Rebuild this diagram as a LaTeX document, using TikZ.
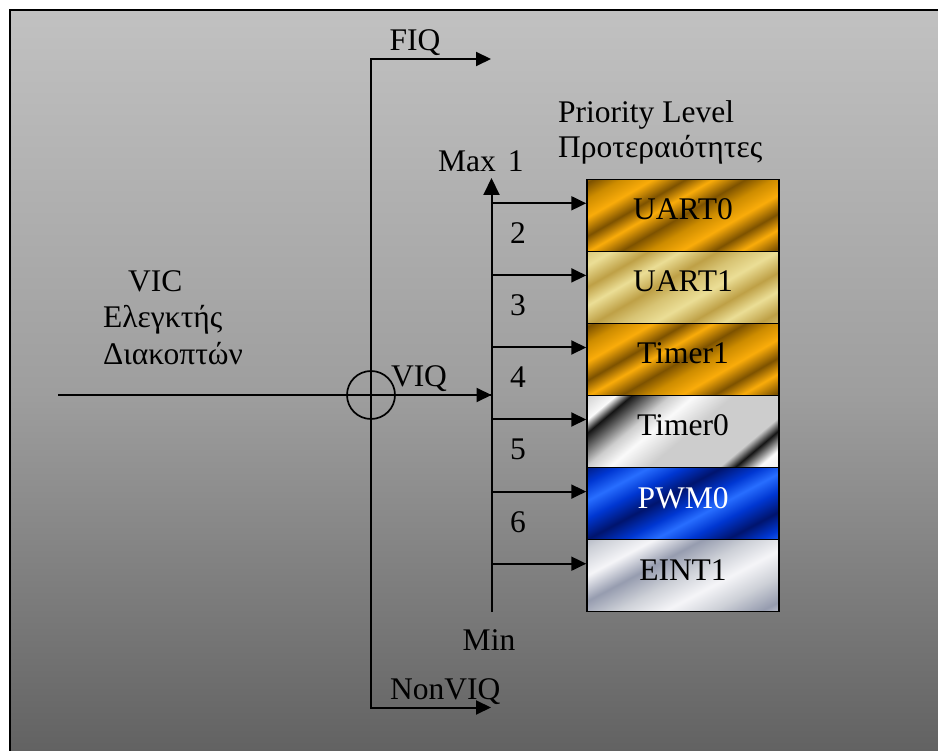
\documentclass[tikz,border=0pt]{standalone}
\usepackage{fontspec}
\setmainfont{Liberation Serif}
\usetikzlibrary{arrows.meta}
% background
\definecolor{bgtop}{RGB}{193,193,193}
\definecolor{bgmid}{RGB}{158,158,158}
\definecolor{bgbot}{RGB}{94,94,94}
% gold
\definecolor{gdk}{RGB}{125,82,0}
\definecolor{gmd}{RGB}{205,140,0}
\definecolor{gbr}{RGB}{250,172,10}
% pale gold
\definecolor{pdk}{RGB}{190,160,70}
\definecolor{pmd}{RGB}{215,195,115}
\definecolor{pbr}{RGB}{235,222,150}
% silver
\definecolor{sdk}{RGB}{20,20,20}
\definecolor{smd}{RGB}{205,205,205}
\definecolor{sbr}{RGB}{250,250,250}
% blue
\definecolor{bdk}{RGB}{0,20,110}
\definecolor{bmd}{RGB}{0,55,210}
\definecolor{bbr}{RGB}{40,110,255}
% pale silver
\definecolor{edk}{RGB}{150,156,175}
\definecolor{emd}{RGB}{205,208,215}
\definecolor{ebr}{RGB}{245,245,248}
\pgfdeclareverticalshading{bgshade}{100bp}{color(0bp)=(bgbot); color(25bp)=(bgbot); color(50bp)=(bgmid); color(75bp)=(bgtop); color(100bp)=(bgtop)}
\pgfdeclareverticalshading{goldA}{100bp}{color(0bp)=(gdk); color(6bp)=(gbr); color(12bp)=(gmd); color(17bp)=(gdk); color(24bp)=(gbr); color(30bp)=(gdk); color(37bp)=(gbr); color(44bp)=(gmd); color(50bp)=(gdk); color(57bp)=(gbr); color(63bp)=(gdk); color(70bp)=(gbr); color(77bp)=(gmd); color(83bp)=(gdk); color(90bp)=(gbr); color(100bp)=(gdk)}
\pgfdeclareverticalshading{paleA}{100bp}{color(0bp)=(pdk); color(7bp)=(pbr); color(14bp)=(pmd); color(20bp)=(pdk); color(28bp)=(pbr); color(35bp)=(pdk); color(43bp)=(pbr); color(50bp)=(pmd); color(56bp)=(pdk); color(64bp)=(pbr); color(71bp)=(pdk); color(79bp)=(pbr); color(86bp)=(pmd); color(92bp)=(pdk); color(100bp)=(pbr)}
\pgfdeclareverticalshading{silverA}{100bp}{color(0bp)=(smd); color(20bp)=(sbr); color(26bp)=(sdk); color(30bp)=(smd); color(48bp)=(smd); color(58bp)=(sbr); color(64bp)=(smd); color(74bp)=(sdk); color(78bp)=(sbr); color(86bp)=(smd); color(100bp)=(smd)}
\pgfdeclareverticalshading{blueA}{100bp}{color(0bp)=(bdk); color(8bp)=(bmd); color(14bp)=(bbr); color(20bp)=(bmd); color(27bp)=(bdk); color(35bp)=(bmd); color(42bp)=(bbr); color(48bp)=(bmd); color(56bp)=(bdk); color(64bp)=(bmd); color(71bp)=(bbr); color(78bp)=(bmd); color(86bp)=(bdk); color(94bp)=(bmd); color(100bp)=(bbr)}
\pgfdeclareverticalshading{eintA}{100bp}{color(0bp)=(emd); color(10bp)=(ebr); color(20bp)=(edk); color(30bp)=(emd); color(40bp)=(ebr); color(50bp)=(emd); color(60bp)=(edk); color(70bp)=(ebr); color(80bp)=(emd); color(90bp)=(edk); color(100bp)=(ebr)}
\tikzset{
  conn/.style={line width=2pt},
  arr/.style={line width=2pt,-{Triangle[length=15pt,width=14pt]}},
  prio/.style={draw=black,line width=1.5pt,shade,minimum width=192pt,minimum height=72.07pt,
    inner sep=0pt,text height=21pt,text depth=12pt},
  lbl/.style={anchor=base,inner sep=0pt},
}
\begin{document}
\begin{tikzpicture}[x=1pt,y=-1pt,font=\fontsize{31.5pt}{37pt}\selectfont]
\useasboundingbox (0,0) rectangle (938,751);
\shade[shading=bgshade,draw=black,line width=2pt] (10,10.3) rectangle (965,775);

% priority boxes
\node[prio,shading=goldA,shading angle=30] (b1) at (683,215.3) {UART0};
\node[prio,shading=paleA,shading angle=30] (b2) at (683,287.4) {UART1};
\node[prio,shading=goldA,shading angle=30] (b3) at (683,359.5) {Timer1};
\node[prio,shading=silverA,shading angle=40] (b4) at (683,431.5) {Timer0};
\node[prio,shading=blueA,shading angle=28,text=white] (b5) at (683,503.6) {PWM0};
\node[prio,shading=eintA,shading angle=28] (b6) at (683,575.7) {EINT1};

% coordinates
\coordinate (src) at (58,395);
\node[draw,circle,line width=1.7pt,minimum size=48pt,inner sep=0pt] (hub) at (371,395) {};
\coordinate (fiq) at (491,59);
\coordinate (nonviq) at (491,707.5);
\coordinate (ptop) at (491.5,178);
\coordinate (pbot) at (491.5,612);
\foreach \i in {1,...,6} {\coordinate (a\i) at ([yshift=12pt]b\i.west);}

% connectors
\draw[conn] (src) -- (pbot |- src);
\draw[arr] (hub.center) -- (pbot |- src);
\draw[arr] (hub.center) |- (fiq);
\draw[arr] (hub.center) |- (nonviq);
\draw[line width=2pt,-{Triangle[length=17pt,width=16pt]}] (pbot) -- (ptop);
\foreach \i in {1,...,6} {\draw[arr] (pbot |- a\i) -- (a\i);}

% labels
\node[lbl] (fiqlbl) at (415,50.7) {FIQ};
\node[lbl,anchor=base west] (plevel) at (558,123) {Priority Level};
\node[lbl,anchor=base west] (pgreek) at (558,158) {Προτεραιότητες};
\node[lbl,anchor=base west] (max) at (438,172) {Max\hspace{4pt} 1};
\node[lbl] (n2) at (518,244) {2};
\node[lbl] (n3) at (518,316) {3};
\node[lbl] (n4) at (518,388) {4};
\node[lbl] (n5) at (518,460) {5};
\node[lbl] (n6) at (518,532) {6};
\node[lbl,anchor=base west] (vic) at (128,291.7) {VIC};
\node[lbl,anchor=base west] (vic2) at (103,328) {Ελεγκτής};
\node[lbl,anchor=base west] (vic3) at (103,365) {Διακοπτών};
\node[lbl] (viq) at (419,386.7) {VIQ};
\node[lbl] (min) at (489,650.7) {Min};
\node[lbl,anchor=base west] (nonviqlbl) at (390,699) {NonVIQ};
\end{tikzpicture}
\end{document}
